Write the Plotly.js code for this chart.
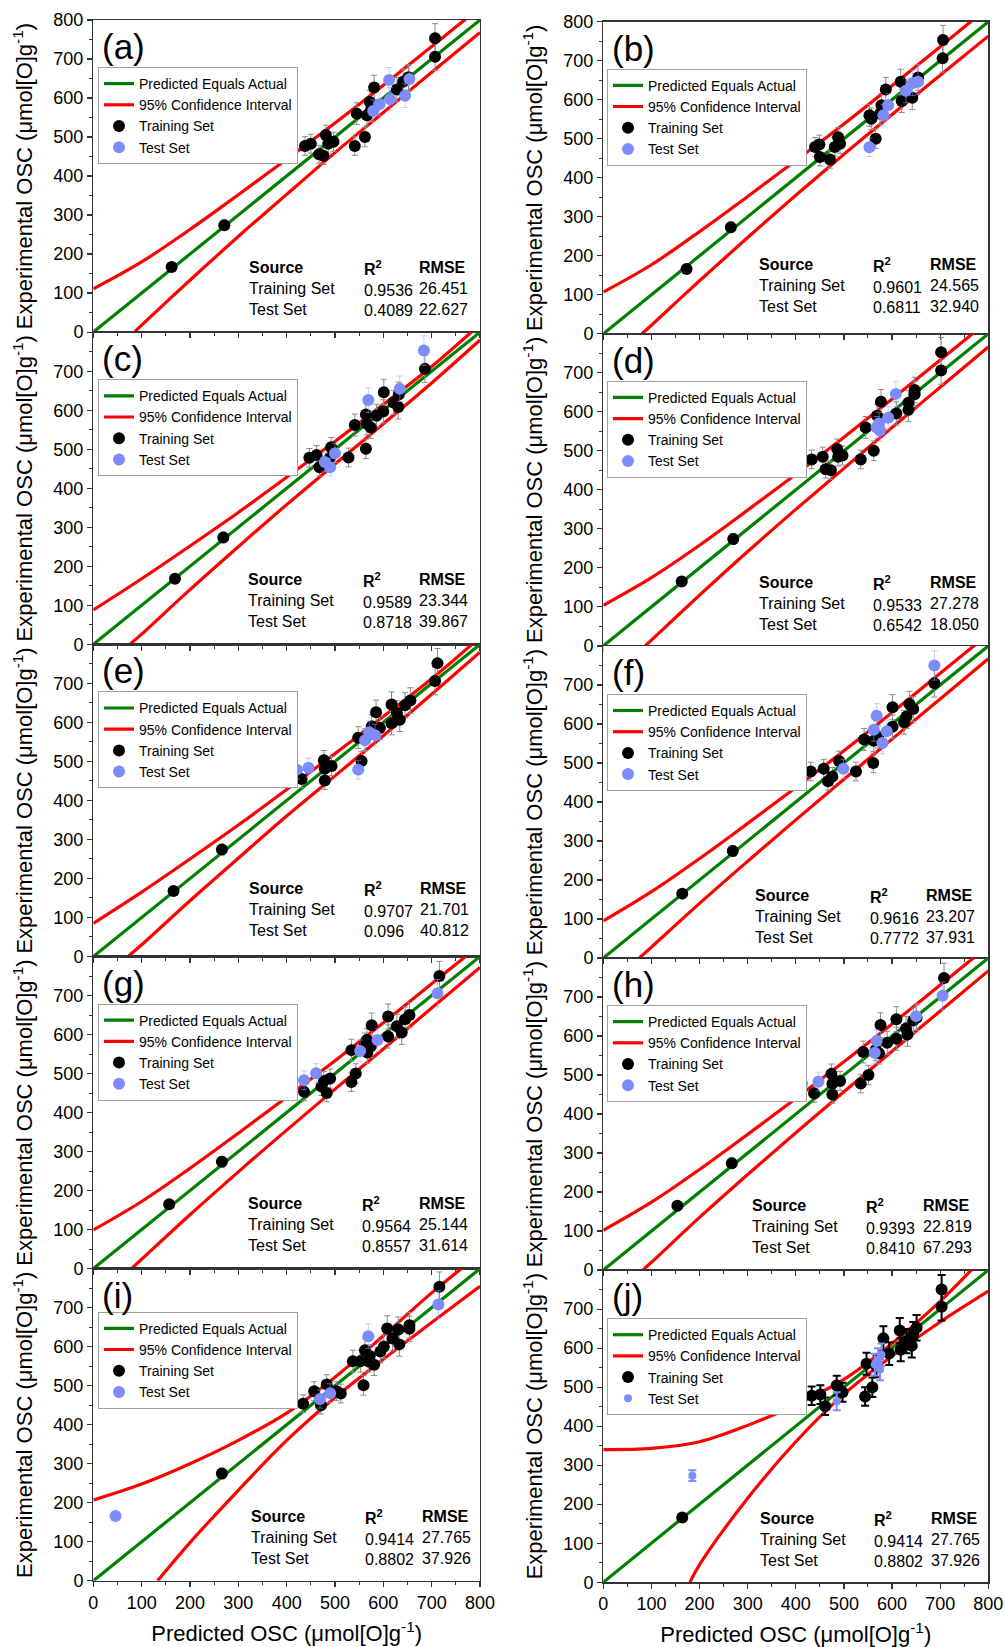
<!DOCTYPE html>
<html><head><meta charset="utf-8">
<script src="https://cdn.plot.ly/plotly-3.0.1.min.js"></script>
<style>html,body{margin:0;padding:0;background:#fff}</style>
</head><body><div id="chart" style="width:1005px;height:1647px"></div>
<script>
// ---------- DATA ----------
const panelLabels = ['(a)','(b)','(c)','(d)','(e)','(f)','(g)','(h)','(i)','(j)'];
const legendNames = ['Predicted Equals Actual','95% Confidence Interval','Training Set','Test Set'];
const xTitle = 'Predicted OSC (μmol[O]g<sup>-1</sup>)';
const yTitle = 'Experimental OSC (μmol[O]g<sup>-1</sup>)';
const tickVals = [0,100,200,300,400,500,600,700,800];
const identX = [0,800];
const identY = [0,800];

const r2Train = ['0.9536','0.9601','0.9589','0.9533','0.9707','0.9616','0.9564','0.9393','0.9414','0.9414'];
const r2Test  = ['0.4089','0.6811','0.8718','0.6542','0.096','0.7772','0.8557','0.8410','0.8802','0.8802'];
const rmseTrain = ['26.451','24.565','23.344','27.278','21.701','23.207','25.144','22.819','27.765','27.765'];
const rmseTest  = ['22.627','32.940','39.867','18.050','40.812','37.931','31.614','67.293','37.926','37.926'];

const a_trainX = [162,271,438,450,467,476,481,486,497,541,545,562,566,572,574,581,628,641,652,707,707];
const a_trainY = [167,274,477,483,456,452,505,483,488,477,560,500,556,590,569,627,622,642,653,753,706];
const a_testX = [579,592,612,614,645,654];
const a_testY = [567,584,646,597,606,649];

const b_trainX = [173,265,440,449,450,471,481,488,492,553,557,566,575,578,587,618,620,642,654,706,705];
const b_trainY = [166,273,479,485,453,447,479,504,487,560,551,500,564,586,626,646,597,605,657,753,706];
const b_testX = [553,582,592,629,643,654];
const b_testY = [478,560,586,623,643,646];

const c_trainX = [169,269,447,462,468,490,492,528,541,564,564,566,574,586,600,601,621,631,632,686];
const c_trainY = [168,274,478,485,454,479,505,479,562,501,589,565,556,586,597,646,620,608,640,706];
const c_testX = [479,490,500,569,634,684];
const c_testY = [467,454,490,626,655,753];

const d_trainX = [163,270,433,456,462,473,486,488,497,535,545,562,569,577,609,634,634,647,647,702,702];
const d_trainY = [165,274,478,485,453,450,505,485,488,478,560,500,590,626,596,623,605,656,645,753,706];
const d_testX = [568,573,575,592,608];
const d_testY = [560,570,552,585,646];

const e_trainX = [166,266,431,477,479,479,493,548,555,562,576,585,593,617,617,628,634,645,656,707,712];
const e_trainY = [168,274,455,503,481,451,488,561,501,556,590,626,586,598,646,624,607,644,656,706,752];
const e_testX = [421,445,548,562,571,583];
const e_testY = [479,484,479,554,575,567];

const f_trainX = [164,269,431,458,467,476,490,525,542,561,562,571,601,601,625,630,636,644,688];
const f_trainY = [165,274,478,485,453,465,505,478,560,500,557,567,593,643,604,619,651,638,704];
const f_testX = [499,562,568,580,589,688];
const f_testY = [485,585,621,551,581,750];

const g_trainX = [157,266,436,472,477,483,490,534,534,543,562,566,567,574,576,610,610,628,638,645,654,716];
const g_trainY = [165,274,453,467,481,450,487,560,478,500,575,586,554,570,624,595,646,621,605,639,650,750];
const g_testX = [408,436,461,552,588,712];
const g_testY = [477,483,501,558,586,706];

const h_trainX = [154,267,438,474,476,476,492,535,540,551,566,573,576,590,609,609,629,632,644,651,708];
const h_trainY = [165,274,453,503,478,450,485,478,559,500,565,556,628,583,643,593,619,604,640,647,749];
const h_testX = [413,447,564,568,650,705];
const h_testY = [478,483,557,587,651,703];

const i_trainX = [266,434,457,471,483,503,512,537,553,559,562,569,572,581,594,601,608,619,631,633,654,654,716];
const i_trainY = [275,454,486,450,503,486,480,563,563,501,591,563,576,554,588,600,647,621,644,606,655,646,754];
const i_testX = [46,379,469,490,569,714];
const i_testY = [166,480,466,481,627,708];

const j_trainX = [164,433,451,461,485,497,544,559,547,568,582,594,616,618,630,641,644,651,703,703];
const j_trainY = [166,478,481,451,504,487,476,500,560,553,625,586,645,596,618,606,635,652,750,706];
const j_testX = [185,485,564,571,578,575];
const j_testY = [273,464,558,571,583,545];

// 95% confidence band
const ciUpX = [0,100,200,300,400,500,600,700,800];
const a_upY = [111,180,263,352,443,536,633,732,832];
const b_upY = [107,177,262,352,444,538,636,736,837];
const c_upY = [88,168,252,338,428,520,615,712,820];
const d_upY = [104,175,258,348,440,535,633,733,833];
const e_upY = [85,165,250,337,428,520,615,712,818];
const f_upY = [95,170,255,345,437,531,629,730,830];
const g_upY = [99,172,257,347,439,533,630,730,830];
const h_upY = [102,174,258,348,440,534,631,731,831];
const i_upY = [207,248,300,360,430,522,628,738,838];
const j_upY = [340,343,360,402,455,520,612,720,846];

const a_lowX = [85,100,200,300,400,500,600,700,800];
const a_lowY = [0,18,133,245,353,460,563,666,768];
const b_lowX = [80,100,200,300,400,500,600,700,800];
const b_lowY = [0,22,136,247,355,460,562,663,763];
const c_lowX = [76,100,200,300,400,500,600,700,800];
const c_lowY = [0,26,140,250,358,462,565,670,780];
const d_lowX = [87,100,200,300,400,500,600,700,800];
const d_lowY = [0,15,130,242,350,455,560,663,766];
const e_lowX = [72,100,200,300,400,500,600,700,800];
const e_lowY = [0,30,143,252,360,463,566,672,780];
const f_lowX = [75,100,200,300,400,500,600,700,800];
const f_lowY = [0,28,140,248,354,458,561,664,767];
const g_lowX = [79,100,200,300,400,500,600,700,800];
const g_lowY = [0,24,138,248,355,460,563,668,772];
const h_lowX = [82,100,200,300,400,500,600,700,800];
const h_lowY = [0,20,135,245,352,457,561,664,767];
const i_lowX = [133,200,300,400,500,600,700,800];
const i_lowY = [0,98,232,360,470,568,662,755];
const j_lowX = [180,200,300,400,500,600,700,800];
const j_lowY = [0,45,215,360,482,580,667,746];

// ---------- ASSEMBLY ----------
const trainXs = [a_trainX,b_trainX,c_trainX,d_trainX,e_trainX,f_trainX,g_trainX,h_trainX,i_trainX,j_trainX];
const trainYs = [a_trainY,b_trainY,c_trainY,d_trainY,e_trainY,f_trainY,g_trainY,h_trainY,i_trainY,j_trainY];
const testXs = [a_testX,b_testX,c_testX,d_testX,e_testX,f_testX,g_testX,h_testX,i_testX,j_testX];
const testYs = [a_testY,b_testY,c_testY,d_testY,e_testY,f_testY,g_testY,h_testY,i_testY,j_testY];
const upYs = [a_upY,b_upY,c_upY,d_upY,e_upY,f_upY,g_upY,h_upY,i_upY,j_upY];
const lowXs = [a_lowX,b_lowX,c_lowX,d_lowX,e_lowX,f_lowX,g_lowX,h_lowX,i_lowX,j_lowX];
const lowYs = [a_lowY,b_lowY,c_lowY,d_lowY,e_lowY,f_lowY,g_lowY,h_lowY,i_lowY,j_lowY];

// layout positions (pixels)
const W = 1005, H = 1647;
const colX = [[93.3,480],[603.3,988.3]];
const rowTop = [[20,332.2,644.4,956.5,1268.7],[21.7,333.8,645.9,958,1270.1]];
const rowH = 312.1;
const legendLeft = [98,607];
const legendOffset = [47,47,47,47,47,48,47,47,43,48];
const tablePos = [ // xSource, xR2, xRMSE, yMiddle (data units)
  [318,556,670,111],[319,556,674,124],[315,554,669,112],[319,557,675,109],[317,555,672,120],
  [312,549,667,107],[315,552,669,112],[305,542,660,113],[322,557,676,110],[321,559,677,110]];

const FONT = 'Arial, "Liberation Sans", sans-serif';
const AX = '#333';
const testColor = 'rgb(125,140,250)';

const traces = [];
const layout = {
  width: W, height: H, margin: {l:0,r:0,t:0,b:0},
  paper_bgcolor: '#fff', plot_bgcolor: '#fff',
  font: {family: FONT, color: '#000', size: 14},
  showlegend: true,
  annotations: []
};

const minorVals = [50,150,250,350,450,550,650,750];

for (let k = 0; k < 10; k++) {
  const col = k % 2, row = Math.floor(k / 2);
  const n = k + 1;
  const xs = k === 0 ? 'x' : 'x' + n;
  const ys = k === 0 ? 'y' : 'y' + n;
  const lg = k === 0 ? 'legend' : 'legend' + n;
  const top = rowTop[col][row], bot = top + rowH;
  const isBottom = row === 4, isTop = row === 0;
  const isJ = k === 9;

  const xax = {
    domain: [colX[col][0] / W, colX[col][1] / W], anchor: ys,
    range: [0, 800], showline: true, mirror: true, linecolor: AX, linewidth: 1.3,
    ticks: 'outside', ticklen: 5, tickwidth: 1.2, tickcolor: AX,
    tickmode: 'array', tickvals: tickVals, showticklabels: isBottom,
    tickfont: {size: 18, color: '#000'},
    minor: {ticks: 'outside', ticklen: 3, tickwidth: 1, tickcolor: AX, tickmode: 'array', tickvals: minorVals, showgrid: false},
    showgrid: false, zeroline: false, automargin: false, fixedrange: true
  };
  if (isBottom) xax.title = {text: xTitle, font: {size: 22}, standoff: 14};
  layout['xaxis' + (k === 0 ? '' : n)] = xax;
  layout['yaxis' + (k === 0 ? '' : n)] = {
    domain: [1 - bot / H, 1 - top / H], anchor: xs,
    range: [0, 800], showline: true, mirror: true, linecolor: AX, linewidth: 1.3,
    ticks: 'outside', ticklen: 5, tickwidth: 1.2, tickcolor: AX,
    tickmode: 'array', tickvals: isTop ? tickVals : tickVals.slice(0, 8),
    tickfont: {size: 18, color: '#000'},
    minor: {ticks: 'outside', ticklen: 3, tickwidth: 1, tickcolor: AX, tickmode: 'array', tickvals: minorVals, showgrid: false},
    showgrid: false, zeroline: false, automargin: false, fixedrange: true,
    title: {text: yTitle, font: {size: 22}, standoff: 14}
  };
  layout[lg] = {
    x: legendLeft[col] / W, y: 1 - (top + legendOffset[k]) / H,
    xanchor: 'left', yanchor: 'top', bgcolor: '#fff', bordercolor: '#a0a0a0', borderwidth: 1,
    font: {size: 14, color: '#000'}, tracegroupgap: 0, itemclick: false, itemdoubleclick: false
  };

  traces.push({x: identX, y: identY, xaxis: xs, yaxis: ys, legend: lg, mode: 'lines',
    name: legendNames[0], line: {color: '#008000', width: 3.2}, hoverinfo: 'skip'});
  traces.push({x: ciUpX, y: upYs[k], xaxis: xs, yaxis: ys, legend: lg, mode: 'lines',
    name: legendNames[1], legendgroup: 'ci' + n, line: {color: '#ff0000', width: 3.2, shape: 'spline', smoothing: 1}, hoverinfo: 'skip'});
  traces.push({x: lowXs[k], y: lowYs[k], xaxis: xs, yaxis: ys, legend: lg, mode: 'lines',
    name: legendNames[1], legendgroup: 'ci' + n, showlegend: false, line: {color: '#ff0000', width: 3.2, shape: 'spline', smoothing: 1}, hoverinfo: 'skip'});
  traces.push({x: trainXs[k], y: trainYs[k], xaxis: xs, yaxis: ys, legend: lg, mode: 'markers',
    name: legendNames[2], marker: {color: '#000', size: 12},
    error_y: {type: 'percent', value: 5, color: isJ ? '#000' : '#8a8a8a', thickness: isJ ? 2 : 1, width: isJ ? 4 : 3}});
  traces.push({x: testXs[k], y: testYs[k], xaxis: xs, yaxis: ys, legend: lg, mode: 'markers',
    name: legendNames[3], marker: {color: testColor, size: isJ ? 8 : 12},
    error_y: {type: 'percent', value: 5, color: isJ ? testColor : 'rgba(150,165,250,0.55)', thickness: isJ ? 2 : 1, width: isJ ? 4 : 3}});

  // panel letter
  layout.annotations.push({xref: xs + ' domain', yref: ys + ' domain', x: 0.017, y: 0.915,
    xanchor: 'left', yanchor: 'middle', showarrow: false, text: panelLabels[k], font: {size: 35, color: '#000'}});
  // statistics table
  const tp = tablePos[k];
  const cols = [
    ['<b>Source</b>', 'Training Set', 'Test Set'],
    ['<b>R<sup>2</sup></b>', r2Train[k], r2Test[k]],
    ['<b>RMSE</b>', rmseTrain[k], rmseTest[k]]
  ];
  for (let c = 0; c < 3; c++) {
    layout.annotations.push({xref: xs, yref: ys, x: tp[c], y: tp[3], xanchor: 'left', yanchor: 'middle',
      align: 'left', showarrow: false, text: cols[c].join('<br>'), font: {size: 16, color: '#000'}});
  }
}

Plotly.newPlot('chart', traces, layout, {staticPlot: true, displayModeBar: false});
</script>
</body></html>
